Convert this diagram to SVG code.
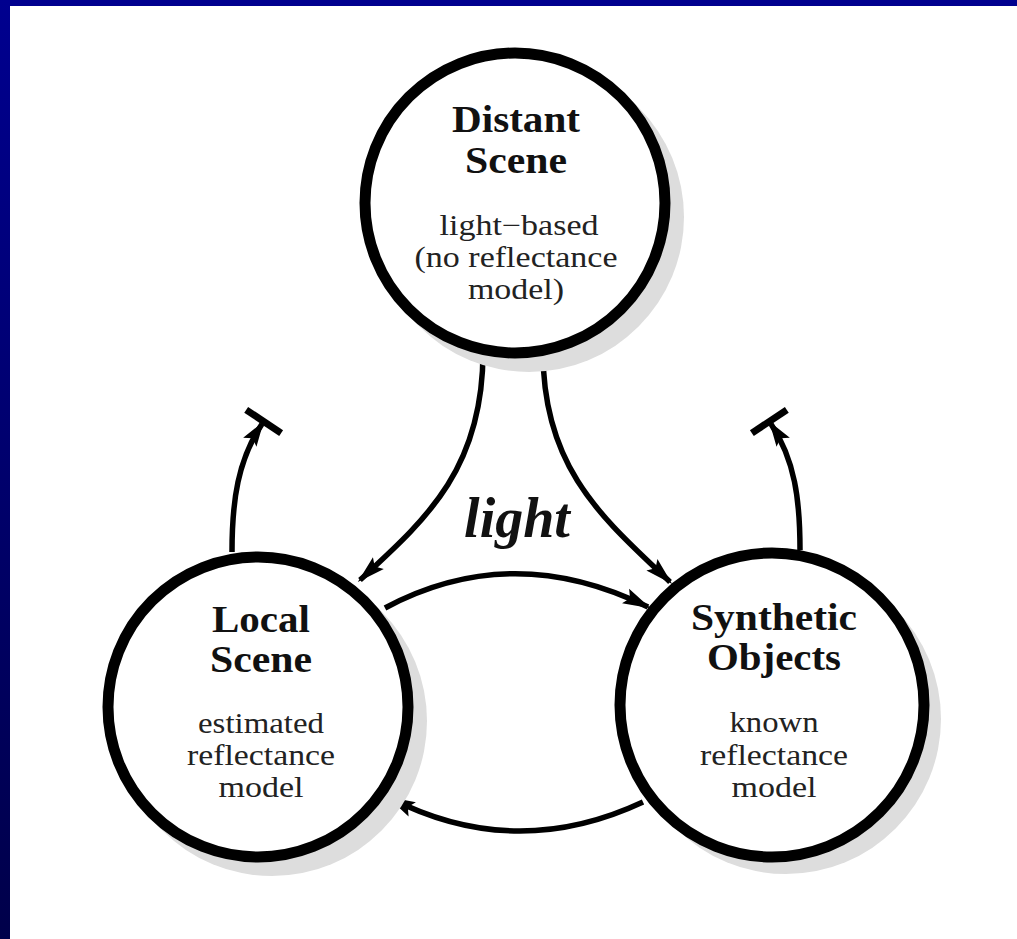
<svg xmlns="http://www.w3.org/2000/svg" width="1017" height="939" viewBox="0 0 1017 939">
<style>
.shadow{fill:#dddddd;stroke:none}
.ring{fill:#ffffff;stroke:#000000;stroke-width:11}
.title{font-family:"Liberation Serif",serif;font-weight:bold;font-size:37px;fill:#111;text-anchor:middle}
.sub{font-family:"Liberation Serif",serif;font-size:29px;fill:#222;text-anchor:middle}
.lbl{font-family:"Liberation Serif",serif;font-weight:bold;font-style:italic;font-size:56px;fill:#111;text-anchor:middle}
.edge{fill:none;stroke:#000;stroke-width:5.5}
</style>
<defs>
<linearGradient id="band" x1="0" y1="0" x2="0" y2="1">
<stop offset="0" stop-color="#00008f"/>
<stop offset="1" stop-color="#00004a"/>
</linearGradient>
<marker id="arr" markerUnits="userSpaceOnUse" markerWidth="34" markerHeight="24" viewBox="-30 -12 34 24" refX="0" refY="0" orient="auto">
<path d="M3,0 L-25,-8 L-20,0 L-25,8 Z" fill="#000"/>
</marker>
<marker id="tee" markerUnits="userSpaceOnUse" markerWidth="50" markerHeight="50" viewBox="-25 -25 50 50" refX="0" refY="0" orient="auto">
<path d="M3,0 L-22,-8 L-17,0 L-22,8 Z" fill="#000"/>
<line x1="3" y1="-21" x2="3" y2="21" stroke="#000" stroke-width="7"/>
</marker>
</defs>
<rect x="0" y="0" width="1017" height="939" fill="#ffffff"/>
<rect x="0" y="0" width="1017" height="6" fill="#00008f"/>
<rect x="0" y="0" width="10" height="939" fill="url(#band)"/>

<g id="connectors">
<path class="edge" d="M483 352 C483 470 425 520 360 580" marker-end="url(#arr)"/>
<path class="edge" d="M543 352 C543 470 605 520 670 582" marker-end="url(#arr)"/>
<path class="edge" d="M385 608 Q512 540 648 607" marker-end="url(#arr)"/>
<path class="edge" d="M643 802 Q515 862 390 798" marker-end="url(#arr)"/>
<path class="edge" d="M232 552 C232 500 238 460 262 424" marker-end="url(#tee)"/>
<path class="edge" d="M800 550 C800 500 795 460 771 424" marker-end="url(#tee)"/>
</g>

<g id="distant">
<circle class="shadow" cx="529" cy="217" r="155"/>
<circle class="ring" cx="515" cy="203" r="150"/>
<text class="title" x="516" y="132" textLength="128" lengthAdjust="spacingAndGlyphs">Distant</text>
<text class="title" x="516" y="173" textLength="102" lengthAdjust="spacingAndGlyphs">Scene</text>
<text class="sub" x="519" y="235" textLength="159" lengthAdjust="spacingAndGlyphs">light−based</text>
<text class="sub" x="516" y="267" textLength="203" lengthAdjust="spacingAndGlyphs">(no reflectance</text>
<text class="sub" x="516" y="299" textLength="96" lengthAdjust="spacingAndGlyphs">model)</text>
</g>

<g id="local">
<circle class="shadow" cx="272" cy="721" r="155"/>
<circle class="ring" cx="258" cy="707" r="150"/>
<text class="title" x="261" y="632" textLength="98" lengthAdjust="spacingAndGlyphs">Local</text>
<text class="title" x="261" y="672" textLength="102" lengthAdjust="spacingAndGlyphs">Scene</text>
<text class="sub" x="261" y="733" textLength="126" lengthAdjust="spacingAndGlyphs">estimated</text>
<text class="sub" x="261" y="765" textLength="148" lengthAdjust="spacingAndGlyphs">reflectance</text>
<text class="sub" x="261" y="797" textLength="85" lengthAdjust="spacingAndGlyphs">model</text>
</g>

<g id="synthetic">
<circle class="shadow" cx="786" cy="719" r="155"/>
<circle class="ring" cx="772" cy="705" r="152"/>
<text class="title" x="774" y="630" textLength="166" lengthAdjust="spacingAndGlyphs">Synthetic</text>
<text class="title" x="774" y="670" textLength="134" lengthAdjust="spacingAndGlyphs">Objects</text>
<text class="sub" x="774" y="732" textLength="89" lengthAdjust="spacingAndGlyphs">known</text>
<text class="sub" x="774" y="765" textLength="148" lengthAdjust="spacingAndGlyphs">reflectance</text>
<text class="sub" x="774" y="797" textLength="85" lengthAdjust="spacingAndGlyphs">model</text>
</g>

<text class="lbl" x="517" y="537">light</text>
</svg>
